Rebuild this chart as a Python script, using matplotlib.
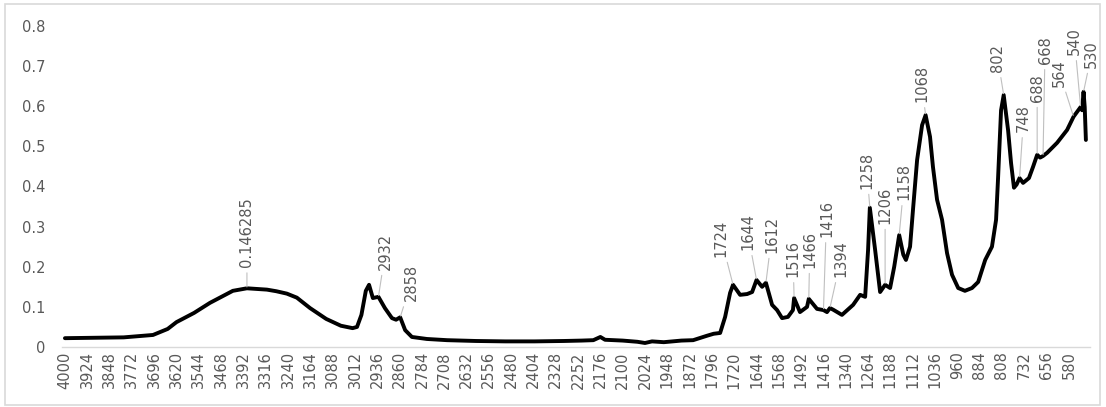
import numpy as np
import matplotlib
matplotlib.use("Agg")
import matplotlib.pyplot as plt
from matplotlib.patches import Rectangle

# FTIR absorbance spectrum (wavenumber in cm-1, absorbance)
wavenumber = [4000, 3900, 3800, 3700, 3650, 3620, 3560, 3506, 3428, 3380, 3312, 3280, 3244,
              3210, 3165, 3110, 3060, 3020, 3005, 2990, 2975, 2964, 2951, 2932, 2910,
              2886, 2872, 2858, 2841, 2818, 2767, 2698, 2600, 2500, 2400, 2300, 2240,
              2200, 2176, 2160, 2100, 2050, 2024, 2000, 1960, 1900, 1860, 1813, 1790,
              1768, 1751, 1734, 1724, 1700, 1676, 1659, 1644, 1625, 1612, 1591, 1574,
              1557, 1537, 1520, 1516, 1496, 1472, 1466, 1438, 1416, 1404, 1394, 1383,
              1353, 1315, 1291, 1274, 1264, 1258, 1250, 1240, 1223, 1206, 1189, 1175,
              1158, 1144, 1135, 1121, 1111, 1097, 1080, 1068, 1053, 1043, 1029, 1012,
              995, 978, 957, 934, 910, 889, 865, 842, 828, 821, 811, 802,
              787, 777, 767, 758, 748, 736, 716, 702, 688, 678, 668, 654,
              620, 586, 564, 548, 540, 535, 530, 526, 522]
absorbance = [0.022, 0.023, 0.024, 0.030, 0.045, 0.062, 0.085, 0.110, 0.140, 0.146285, 0.143, 0.139, 0.133,
              0.123, 0.097, 0.070, 0.053, 0.047, 0.050, 0.080, 0.140, 0.155, 0.122, 0.125, 0.097,
              0.072, 0.068, 0.074, 0.042, 0.025, 0.020, 0.017, 0.015, 0.014, 0.014, 0.015, 0.016,
              0.017, 0.025, 0.018, 0.016, 0.013, 0.010, 0.014, 0.012, 0.016, 0.017, 0.028, 0.033,
              0.035, 0.075, 0.135, 0.155, 0.130, 0.132, 0.137, 0.167, 0.150, 0.160, 0.105, 0.092,
              0.072, 0.075, 0.092, 0.122, 0.087, 0.100, 0.120, 0.095, 0.092, 0.087, 0.097, 0.093,
              0.080, 0.105, 0.130, 0.125, 0.242, 0.347, 0.300, 0.242, 0.137, 0.155, 0.147, 0.200,
              0.279, 0.230, 0.217, 0.250, 0.342, 0.466, 0.553, 0.578, 0.524, 0.449, 0.367, 0.317,
              0.234, 0.180, 0.147, 0.140, 0.147, 0.162, 0.217, 0.250, 0.317, 0.424, 0.590, 0.628,
              0.540, 0.459, 0.397, 0.405, 0.421, 0.409, 0.421, 0.449, 0.479, 0.472, 0.476, 0.484,
              0.509, 0.541, 0.574, 0.590, 0.598, 0.590, 0.636, 0.598, 0.516]

# Tick labels along the wavenumber axis
x_ticks = list(range(4000, 579, -76))
y_ticks = [0, 0.1, 0.2, 0.3, 0.4, 0.5, 0.6, 0.7, 0.8]

# Labelled bands: wavenumber, label text, label offset (pixels right, pixels up)
band_positions = [3380, 2932, 2858, 1724, 1644, 1612, 1516, 1466, 1416, 1394,
                  1258, 1206, 1158, 1068, 802, 748, 688, 668, 564, 540, 530]
band_texts = ["0.146285", "2932", "2858", "1724", "1644", "1612", "1516", "1466", "1416", "1394",
              "1258", "1206", "1158", "1068", "802", "748", "688", "668", "564", "540", "530"]
band_offsets = [(0, 21), (7, 27), (11, 16), (-12, 28), (-9, 30), (6, 30), (-1, 21), (1, 31),
                (3, 73), (11, 31), (-3, 19), (0, 61), (5, 35), (-4, 13), (-6, 23), (4, 46),
                (0, 53), (2, 92), (-14, 30), (-6, 52), (8, 24)]

text_gray = "#595959"
line_gray = "#bfbfbf"

fig = plt.figure(figsize=(11.06, 4.07), dpi=100)
W, H = 1106, 407
ax = fig.add_axes([62 / W, (H - 347) / H, (1090 - 62) / W, (347 - 26) / H])

ax.plot(wavenumber, absorbance, color="black", lw=2.8, solid_joinstyle="round",
        solid_capstyle="round", zorder=3)

ax.set_xlim(4010, 508)
ax.set_ylim(0, 0.8)
ax.set_xticks(x_ticks)
ax.set_xticklabels([str(t) for t in x_ticks], rotation=90, fontsize=10.5, color=text_gray)
ax.set_yticks(y_ticks)
ax.set_yticklabels(["0"] + [f"{v:.1f}" for v in y_ticks[1:]], fontsize=10.5, color=text_gray)
ax.tick_params(axis="both", length=0)
ax.tick_params(axis="x", pad=3)
ax.tick_params(axis="y", pad=12)

for side in ["top", "right", "left"]:
    ax.spines[side].set_visible(False)
ax.spines["bottom"].set_color("#d9d9d9")
ax.spines["bottom"].set_linewidth(1.0)

for wn_b, txt, (dx, dy) in zip(band_positions, band_texts, band_offsets):
    yv = np.interp(wn_b, wavenumber[::-1], absorbance[::-1])
    ax.annotate(txt, xy=(wn_b, yv), xytext=(dx, dy), textcoords="offset pixels",
                rotation=90, ha="center", va="bottom", fontsize=10.5, color=text_gray,
                arrowprops=dict(arrowstyle="-", color=line_gray, lw=0.8,
                                shrinkA=2, shrinkB=1),
                zorder=4)

# Chart area border
fig.patches.append(Rectangle((5 / W, 2 / H), (1100 - 5) / W, (403 - 2) / H,
                             transform=fig.transFigure, fill=False,
                             edgecolor="#d9d9d9", lw=1.2))

fig.savefig("out.png", dpi=100)
